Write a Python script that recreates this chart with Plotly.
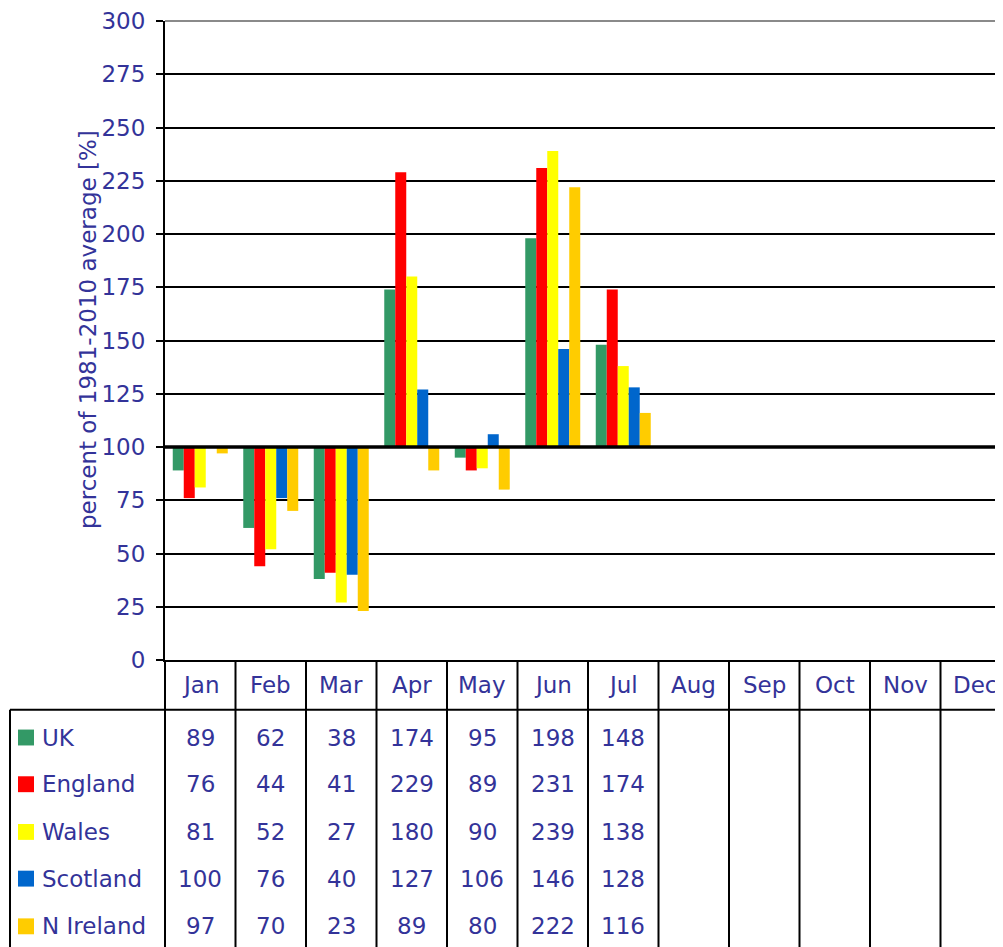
import plotly.graph_objects as go

months = ["Jan", "Feb", "Mar", "Apr", "May", "Jun", "Jul", "Aug", "Sep", "Oct", "Nov", "Dec"]
series_names = ["UK", "England", "Wales", "Scotland", "N Ireland"]
uk = [89, 62, 38, 174, 95, 198, 148]
england = [76, 44, 41, 229, 89, 231, 174]
wales = [81, 52, 27, 180, 90, 239, 138]
scotland = [100, 76, 40, 127, 106, 146, 128]
n_ireland = [97, 70, 23, 89, 80, 222, 116]
series_values = [uk, england, wales, scotland, n_ireland]
colors = ["#339966", "#FF0000", "#FFFF00", "#0066CC", "#FFCC00"]
baseline = 100
y_ticks = list(range(0, 301, 25))

TXT = "#333399"
FONT = "DejaVu Sans"
FS = 23

OFF = 8  # page body margin
W, H = 1003 - OFF, 947 - OFF
ML, MT = 165 - OFF, 17 - OFF
MB = H - (660 - OFF)
PW = W - ML
PH = H - MT - MB


def py(pix):
    # screen pixel y -> paper y
    return ((660 - OFF) - (pix - OFF)) / PH


def px(pix):
    # screen pixel x -> paper x
    return ((pix - OFF) - ML) / PW


fig = go.Figure()
for name, vals, col in zip(series_names, series_values, colors):
    fig.add_trace(go.Bar(
        x=months[:len(vals)],
        y=[v - baseline for v in vals],
        base=baseline,
        name=name,
        marker=dict(color=col, line=dict(width=0)),
        showlegend=False,
        hoverinfo="skip",
    ))

shapes = []
shapes.append(dict(type="line", xref="paper", yref="y", x0=0, x1=1, y0=baseline, y1=baseline,
                   line=dict(color="black", width=3.5), layer="above"))
shapes.append(dict(type="line", xref="paper", yref="paper", x0=0, x1=1, y0=1, y1=1,
                   line=dict(color="#8a8a8a", width=2), layer="below"))
bottom = py(960)
shapes.append(dict(type="line", xref="paper", yref="paper", x0=0, x1=0, y0=0, y1=bottom,
                   line=dict(color="black", width=2)))
for i in range(1, len(months) + 1):
    shapes.append(dict(type="line", xref="x", yref="paper", x0=i - 0.5, x1=i - 0.5,
                       y0=0, y1=bottom, line=dict(color="black", width=2)))
hdr = py(710)
shapes.append(dict(type="line", xref="paper", yref="paper", x0=px(10), x1=1.02, y0=hdr, y1=hdr,
                   line=dict(color="black", width=2)))
shapes.append(dict(type="line", xref="paper", yref="paper", x0=px(10), x1=px(10), y0=hdr, y1=bottom,
                   line=dict(color="black", width=2)))

row_centers = [738, 785, 833, 880, 928]
annotations = []
for m in months:
    annotations.append(dict(x=m, xref="x", y=py(685), yref="paper", text=m, showarrow=False,
                            xanchor="center", yanchor="middle", font=dict(family=FONT, size=FS, color=TXT)))
for name, vals, col, rc in zip(series_names, series_values, colors, row_centers):
    shapes.append(dict(type="rect", xref="paper", yref="paper", x0=px(18), x1=px(34),
                       y0=py(rc + 8), y1=py(rc - 8), fillcolor=col, line=dict(width=0)))
    annotations.append(dict(x=px(40), xref="paper", y=py(rc), yref="paper", text=name, showarrow=False,
                            xanchor="left", yanchor="middle", font=dict(family=FONT, size=FS, color=TXT)))
    for m, v in zip(months, vals):
        annotations.append(dict(x=m, xref="x", y=py(rc), yref="paper", text=str(v), showarrow=False,
                                xanchor="center", yanchor="middle", font=dict(family=FONT, size=FS, color=TXT)))
annotations.append(dict(x=px(88), xref="paper", y=py(328), yref="paper", text="percent of 1981-2010 average [%]",
                        textangle=-90, showarrow=False, xanchor="center", yanchor="middle",
                        font=dict(family=FONT, size=FS, color=TXT)))

fig.update_layout(
    width=W, height=H,
    margin=dict(l=ML, r=0, t=MT, b=MB, pad=0),
    paper_bgcolor="white", plot_bgcolor="white",
    barmode="group", bargap=0.22, bargroupgap=0,
    shapes=shapes, annotations=annotations,
    xaxis=dict(type="category", categoryarray=months, categoryorder="array",
               range=[-0.5, -0.5 + PW / 70.5], showticklabels=False, showgrid=False,
               showline=True, linecolor="black", linewidth=2, ticks="", zeroline=False, fixedrange=True),
    yaxis=dict(range=[0, 300], tickvals=y_ticks, showgrid=True, gridcolor="black", gridwidth=2,
               showline=True, linecolor="black", linewidth=2, ticks="outside", ticklen=7,
               tickwidth=2, tickcolor="black", zeroline=False, ticklabelstandoff=6,
               ticklabeloverflow="allow",
               tickfont=dict(family=FONT, size=FS, color=TXT), fixedrange=True),
)

fig.write_html("out.html")
